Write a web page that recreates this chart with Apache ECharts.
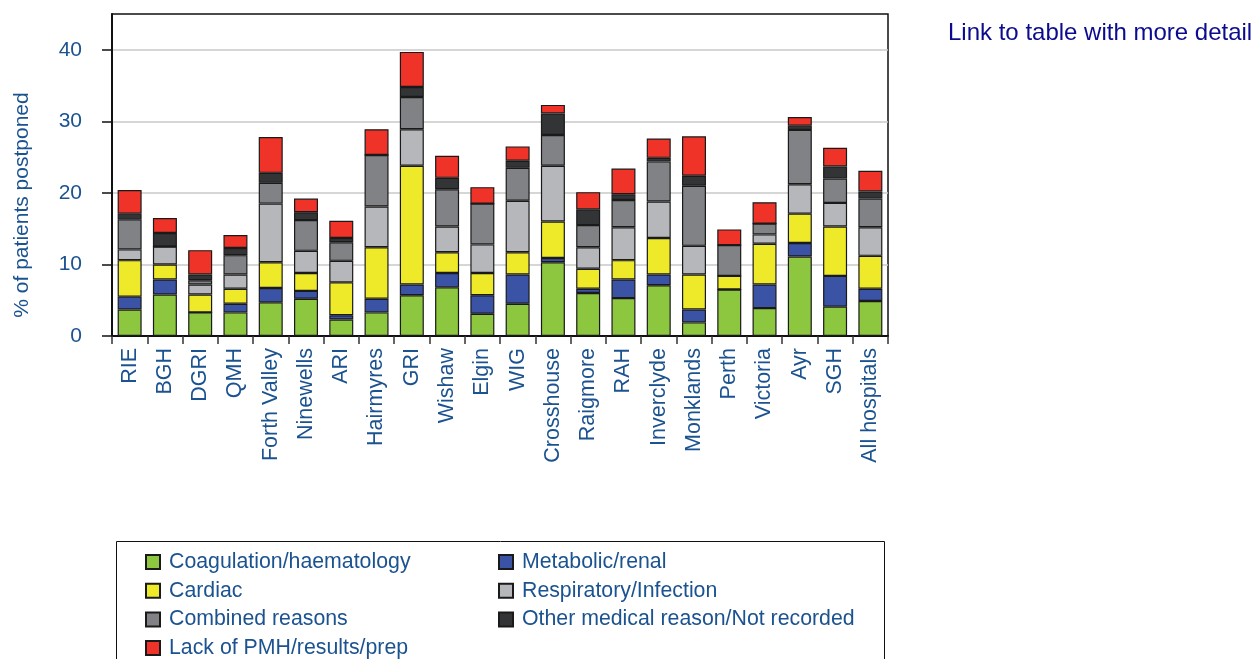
<!DOCTYPE html>
<html>
<head>
<meta charset="utf-8">
<script src="https://cdn.jsdelivr.net/npm/echarts@6/dist/echarts.min.js"></script>
<style>
html,body{margin:0;padding:0;background:#fff;}
#chart{width:1254px;height:659px;}
</style>
</head>
<body>
<div id="chart"></div>
<script>
const categories = ['RIE','BGH','DGRI','QMH','Forth Valley','Ninewells','ARI','Hairmyres','GRI','Wishaw','Elgin','WIG','Crosshouse','Raigmore','RAH','Inverclyde','Monklands','Perth','Victoria','Ayr','SGH','All hospitals'];
const coagulation = [3.7,5.8,3.3,3.3,4.7,5.2,2.3,3.3,5.7,6.8,3.1,4.5,10.3,6.0,5.3,7.1,1.9,6.5,3.9,11.1,4.1,4.9];
const metabolic   = [1.8,2.1,0,1.2,2.0,1.1,0.6,1.9,1.5,2.0,2.6,4.1,0.6,0.6,2.6,1.5,1.8,0,3.3,1.9,4.3,1.7];
const cardiac     = [5.1,2.1,2.5,2.1,3.6,2.5,4.6,7.2,16.6,2.9,3.1,3.1,5.1,2.8,2.7,5.1,4.9,1.9,5.7,4.1,6.9,4.6];
const respiratory = [1.5,2.5,1.4,2.0,8.2,3.1,3.0,5.7,5.1,3.6,4.0,7.2,7.8,3.0,4.6,5.1,4.0,0,1.3,4.1,3.3,4.0];
const combined    = [4.2,0,0.6,2.7,2.9,4.3,2.6,7.2,4.5,5.2,5.7,4.6,4.3,3.1,3.8,5.6,8.4,4.3,1.5,7.6,3.4,4.0];
const otherMedical= [0.8,1.9,0.8,1.0,1.4,1.1,0.6,0,1.4,1.6,0,1.0,3.0,2.2,0.8,0.5,1.4,0,0,0.6,1.7,1.0];
const lackPMH     = [3.3,2.1,3.4,1.8,5.0,1.9,2.4,3.6,4.9,3.1,2.3,2.0,1.2,2.4,3.6,2.7,5.5,2.2,3.0,1.2,2.6,2.9];
const yTicks = [0,10,20,30,40];

const seriesDefs = [
  {name:'Coagulation/haematology', data:coagulation, color:'#8dc63f'},
  {name:'Metabolic/renal', data:metabolic, color:'#3a53a4'},
  {name:'Cardiac', data:cardiac, color:'#eeea29'},
  {name:'Respiratory/Infection', data:respiratory, color:'#b5b7bb'},
  {name:'Combined reasons', data:combined, color:'#808285'},
  {name:'Other medical reason/Not recorded', data:otherMedical, color:'#333436'},
  {name:'Lack of PMH/results/prep', data:lackPMH, color:'#ef3329'}
];
const textColor = '#1b5290';
const font = 'Liberation Sans, Arial, sans-serif';

const chart = echarts.init(document.getElementById('chart'));
const legendCommon = {
  orient:'vertical', itemWidth:14, itemHeight:14, itemGap:6.7, height:140,
  icon:'rect',
  textStyle:{color:textColor, fontSize:21.3, lineHeight:22, fontFamily:font, padding:[0,0,0,4]},
  selectedMode:false
};
chart.setOption({
  animation:false,
  grid:{left:112, right:366, top:14, bottom:323, show:true, borderColor:'#111', borderWidth:1.5, containLabel:false},
  xAxis:{
    type:'category', data:categories,
    axisLine:{lineStyle:{color:'#111', width:2}},
    axisTick:{show:true, length:8, lineStyle:{color:'#333', width:1.5}},
    axisLabel:{rotate:90, margin:12, color:textColor, fontSize:21.5, fontFamily:font, interval:0}
  },
  yAxis:{
    type:'value', min:0, max:45, interval:10,
    axisLine:{show:true, lineStyle:{color:'#111', width:2}},
    axisTick:{show:true, length:10, customValues:yTicks, lineStyle:{color:'#111', width:1.5}},
    axisLabel:{color:textColor, fontSize:21, fontFamily:font, margin:30, customValues:yTicks},
    splitLine:{show:true, lineStyle:{color:'#c8c8c8', width:1.5}}
  },
  legend:[
    Object.assign({left:140, top:546, data:['Coagulation/haematology','Cardiac','Combined reasons','Lack of PMH/results/prep']}, legendCommon),
    Object.assign({left:493, top:546, data:['Metabolic/renal','Respiratory/Infection','Other medical reason/Not recorded']}, legendCommon)
  ],
  graphic:[
    {type:'rect', shape:{x:116.5, y:541.5, width:768, height:140}, style:{fill:'none', stroke:'#111', lineWidth:1}},
    {type:'text', left:948, top:21, style:{text:'Link to table with more detail', fill:'#0b0b8f', fontSize:24, fontFamily:font}},
    {type:'text', x:22, y:205, rotation:Math.PI/2,
      style:{text:'% of patients postponed', fill:textColor, fontSize:21, fontFamily:font, align:'center', verticalAlign:'middle'}}
  ],
  series: seriesDefs.map(s => ({
    name:s.name, type:'bar', stack:'total', data:s.data, barWidth:24,
    itemStyle:{color:s.color, borderColor:'#1a1a1a', borderWidth:1.2}
  }))
});
</script>
</body>
</html>
